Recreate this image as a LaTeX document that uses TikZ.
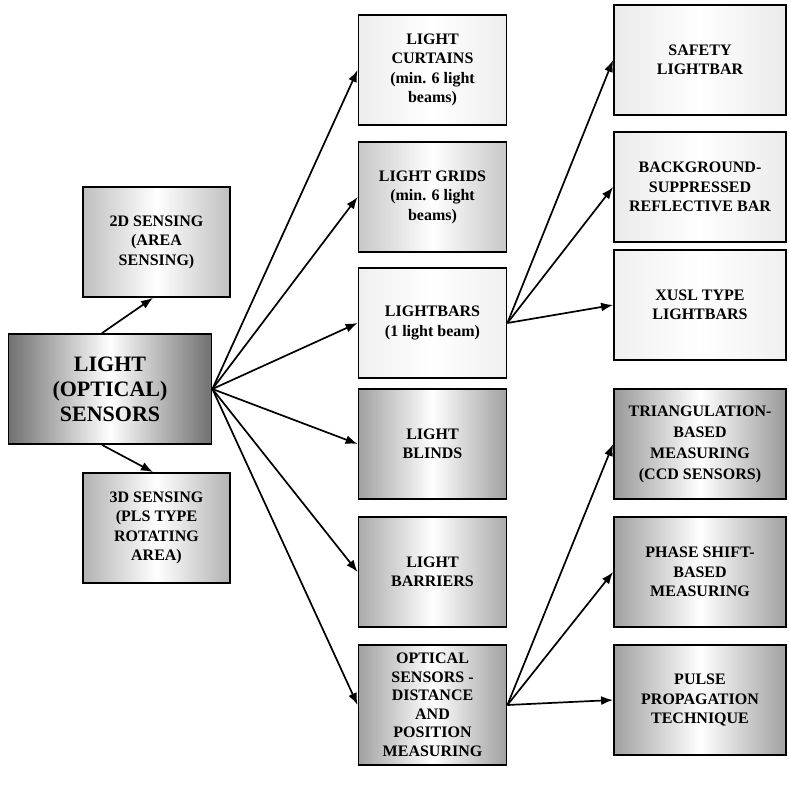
\documentclass[tikz,border=0pt]{standalone}
\usepackage{fontspec}
\setmainfont{Liberation Serif}
\usetikzlibrary{arrows.meta}
\tikzset{
  gbox/.style={draw=black, line width=1.8pt, left color=#1, right color=#1, middle color=white,
    align=center, font=\bfseries\fontsize{16}{19.5}\selectfont, inner sep=2pt},
  gbox/.default={black!10},
  conn/.style={line width=1.7pt, -{Latex[length=12pt,width=9pt]}}
}
\begin{document}
\begin{tikzpicture}[x=1pt,y=-1pt]
\useasboundingbox (0,0) rectangle (789,786);
% left
\node[gbox=black!56, minimum width=203pt, minimum height=110pt, font=\bfseries\fontsize{22}{25}\selectfont] (c) at (110,389) {LIGHT\\(OPTICAL)\\SENSORS};
\node[gbox=black!25, minimum width=147pt, minimum height=110pt] (d2) at (156.5,242) {2D SENSING\\(AREA\\SENSING)};
\node[gbox=black!30, minimum width=147pt, minimum height=110pt] (d3) at (156.5,528) {3D SENSING\\(PLS TYPE\\ROTATING\\AREA)};
% middle
\node[gbox=black!7, minimum width=148pt, minimum height=110pt] (m1) at (432.5,70) {LIGHT\\CURTAINS\\(min. 6 light\\beams)};
\node[gbox=black!22, minimum width=148pt, minimum height=110pt] (m2) at (432.5,197) {LIGHT GRIDS\\(min. 6 light\\beams)};
\node[gbox=black!6, minimum width=148pt, minimum height=110pt] (m3) at (432.5,323) {LIGHTBARS\\(1 light beam)};
\node[gbox=black!37, minimum width=148pt, minimum height=110pt] (m4) at (432.5,444) {LIGHT\\BLINDS};
\node[gbox=black!33, minimum width=148pt, minimum height=110pt] (m5) at (432.5,572) {LIGHT\\BARRIERS};
\node[gbox=black!37, minimum width=148pt, minimum height=120pt, font=\bfseries\fontsize{16}{18.5}\selectfont] (m6) at (432.5,705) {OPTICAL\\SENSORS -\\DISTANCE\\AND\\POSITION\\MEASURING};
% right
\node[gbox=black!8, minimum width=172pt, minimum height=110pt] (r1) at (700,60) {SAFETY\\LIGHTBAR};
\node[gbox=black!8, minimum width=172pt, minimum height=110pt] (r2) at (700,187) {BACKGROUND-\\SUPPRESSED\\REFLECTIVE BAR};
\node[gbox=black!6, minimum width=172pt, minimum height=110pt] (r3) at (700,305) {XUSL TYPE\\LIGHTBARS};
\node[gbox=black!40, minimum width=172pt, minimum height=110pt, font=\bfseries\fontsize{16}{21}\selectfont] (r4) at (700,444) {TRIANGULATION-\\BASED\\MEASURING\\(CCD SENSORS)};
\node[gbox=black!37, minimum width=172pt, minimum height=110pt] (r5) at (700,572) {PHASE SHIFT-\\BASED\\MEASURING};
\node[gbox=black!37, minimum width=172pt, minimum height=110pt] (r6) at (700,700) {PULSE\\PROPAGATION\\TECHNIQUE};
% connectors
\draw[conn] ([xshift=-8pt]c.north) -- ([xshift=-3.5pt]d2.south);
\draw[conn] ([xshift=-8pt]c.south) -- ([xshift=-3.5pt]d3.north);
\foreach \t in {m1,m2,m3,m4,m5,m6} \draw[conn] (c.east) -- (\t.west);
\foreach \t in {r1,r2,r3} \draw[conn] (m3.east) -- (\t.west);
\foreach \t in {r4,r5,r6} \draw[conn] (m6.east) -- (\t.west);
\end{tikzpicture}
\end{document}
